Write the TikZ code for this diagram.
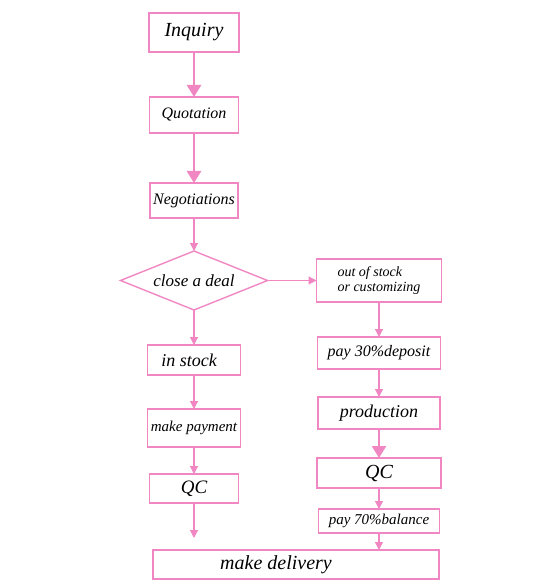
\documentclass[tikz,border=0pt]{standalone}
\usepackage{fontspec}
\setmainfont{Liberation Serif}
\usepackage{tikz}
\usetikzlibrary{shapes.geometric, arrows.meta, positioning}
\definecolor{flowpink}{RGB}{240,135,195}

\begin{document}
\begin{tikzpicture}[
    node distance=35pt,
    box/.style={rectangle, draw=flowpink, line width=1.4pt, inner sep=0pt, outer sep=0pt, align=center, text=black},
    deal_node/.style={diamond, draw=flowpink, line width=1.4pt, inner sep=0pt, outer sep=0pt, aspect=2.5, minimum width=147pt, minimum height=59pt},
    arrow/.style={-{Triangle[width=8pt,length=8pt]}, draw=flowpink, line width=1.2pt},
    bigarrow/.style={-{Triangle[width=14pt,length=12pt]}, draw=flowpink, line width=2.6pt}
]
\useasboundingbox (0,0) rectangle (535pt,-585pt);

% Nodes
\node [box, minimum width=90pt, minimum height=39pt, font=\itshape\fontsize{20}{22}\selectfont] (inquiry) at (194pt,-32.5pt) {Inquiry};
\node [box, below=45pt of inquiry, minimum width=89pt, minimum height=36pt, font=\itshape\fontsize{16}{18}\selectfont] (quotation) {Quotation};
\node [box, below=50pt of quotation, minimum width=88pt, minimum height=35pt, font=\itshape\fontsize{16}{18}\selectfont] (negotiations) {Negotiations};
\node [deal_node, below=33pt of negotiations, font=\itshape\fontsize{17}{19}\selectfont] (deal) {close a deal};
\node [box, right=49pt of deal, minimum width=125pt, minimum height=43pt, align=left, font=\itshape\fontsize{14}{15}\selectfont] (outstock) {out of stock\\or customizing};
\node [box, below=35pt of outstock, minimum width=123pt, minimum height=32pt, font=\itshape\fontsize{16}{18}\selectfont] (deposit) {pay 30\%deposit};
\node [box, below=28pt of deposit, minimum width=122pt, minimum height=32pt, font=\itshape\fontsize{18}{20}\selectfont] (production) {production};
\node [box, below=29pt of production, minimum width=124pt, minimum height=30pt, font=\itshape\fontsize{20}{22}\selectfont] (qcright) {QC};
\node [box, below=21pt of qcright, minimum width=121pt, minimum height=24pt, font=\itshape\fontsize{15}{17}\selectfont] (balance) {pay 70\%balance};
\node [box, below=35pt of deal, minimum width=93pt, minimum height=30pt, font=\itshape\fontsize{18}{20}\selectfont] (instock) {in stock\hspace*{10pt}};
\node [box, below=34pt of instock, minimum width=93pt, minimum height=38pt, font=\itshape\fontsize{15}{17}\selectfont] (payment) {make payment};
\node [box, below=27pt of payment, minimum width=89pt, minimum height=29pt, font=\itshape\fontsize{19}{21}\selectfont] (qcleft) {QC};
\node [box, below=17pt of balance, xshift=-83pt, minimum width=286pt, minimum height=29pt, font=\itshape\fontsize{20}{22}\selectfont] (delivery) {make delivery\hspace*{40pt}};
\coordinate [below=35pt of qcleft] (qcend);

% Paths
\draw [bigarrow] (inquiry) -- (quotation);
\draw [bigarrow] (quotation) -- (negotiations);
\draw [arrow] (negotiations) -- (deal);
\draw [arrow] (deal) -- (outstock);
\draw [arrow] (deal) -- (instock);
\draw [arrow] (instock) -- (payment);
\draw [arrow] (payment) -- (qcleft);
\draw [arrow] (qcleft) -- (qcend);
\draw [arrow] (outstock) -- (deposit);
\draw [arrow] (deposit) -- (production);
\draw [bigarrow] (production) -- (qcright);
\draw [arrow] (qcright) -- (balance);
\draw [arrow] (balance) -- (balance |- delivery.north);

\end{tikzpicture}
\end{document}
